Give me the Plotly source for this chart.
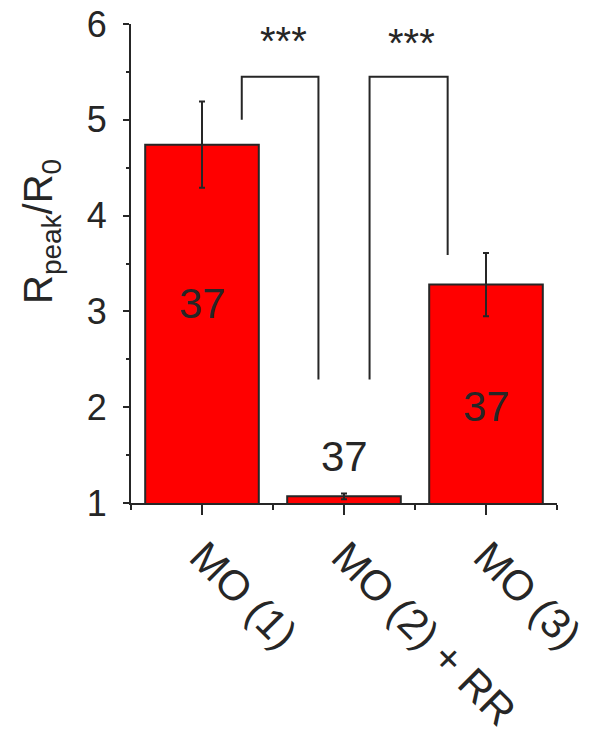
import plotly.graph_objects as go

# ---- data ----
categories = ["MO (1)", "MO (2) + RR", "MO (3)"]
means = [4.74, 1.07, 3.28]
errors = [0.45, 0.03, 0.33]
n_labels = ["37", "37", "37"]
y_ticks = [1, 2, 3, 4, 5, 6]

# significance brackets
sig_labels = ["***", "***"]
bracket_x_left = [0.28, 1.18]
bracket_x_right = [0.82, 1.73]
bracket_top = [5.45, 5.45]
bracket_left_end = [5.0, 2.29]
bracket_right_end = [2.29, 3.59]

# ---- placement (not data) ----
n_label_y = [3.08, 1.49, 2.01]
sig_label_y = [5.82, 5.80]

FONT = "Arial, 'Liberation Sans', sans-serif"
INK = "#262626"

x_pos = list(range(len(categories)))

fig = go.Figure()
fig.add_trace(go.Bar(
    x=x_pos, y=means, width=0.8,
    marker=dict(color="#FF0000", line=dict(color=INK, width=2)),
    error_y=dict(type="data", array=errors, visible=True,
                 color=INK, thickness=2, width=3),
    hoverinfo="skip", showlegend=False,
))

for xl, xr, top, le, re in zip(bracket_x_left, bracket_x_right, bracket_top,
                               bracket_left_end, bracket_right_end):
    fig.add_trace(go.Scatter(
        x=[xl, xl, xr, xr], y=[le, top, top, re], mode="lines",
        line=dict(color=INK, width=2), hoverinfo="skip", showlegend=False,
        cliponaxis=False,
    ))

annotations = []
for xi, lab, ly in zip(x_pos, n_labels, n_label_y):
    annotations.append(dict(x=xi, y=ly, text=lab, showarrow=False,
                            font=dict(family=FONT, size=42, color=INK),
                            xanchor="center", yanchor="middle"))
for xl, xr, lab, ly in zip(bracket_x_left, bracket_x_right, sig_labels, sig_label_y):
    annotations.append(dict(x=(xl + xr) / 2, y=ly, text=lab, showarrow=False,
                            xshift=3,
                            font=dict(family=FONT, size=40, color=INK),
                            xanchor="center", yanchor="middle"))
annotations.append(dict(xref="paper", yref="paper", x=-0.211, y=0.566,
                        text="R<sub>peak</sub>/R<sub>0</sub>", textangle=-90,
                        showarrow=False, xanchor="center", yanchor="middle",
                        font=dict(family=FONT, size=40, color=INK)))

fig.update_layout(
    width=607, height=740,
    margin=dict(l=131, r=50, t=24, b=237, autoexpand=False),
    paper_bgcolor="white", plot_bgcolor="white",
    font=dict(family=FONT, color=INK),
    annotations=annotations,
    hovermode=False,
    xaxis=dict(
        range=[-0.5, 2.5], tickvals=x_pos, ticktext=categories,
        tickangle=45, ticks="outside", ticklen=10, tickwidth=2, tickcolor=INK,
        showline=True, linecolor=INK, linewidth=2, showgrid=False, zeroline=False,
        automargin=False, ticklabeloverflow="allow",
        tickfont=dict(family=FONT, size=42, color=INK),
        minor=dict(tickvals=[-0.5, 0.5, 1.5, 2.5], ticks="outside", ticklen=5,
                   tickwidth=2, tickcolor=INK),
    ),
    yaxis=dict(
        range=[1, 6], tickvals=y_ticks, ticks="outside", ticklen=6, tickwidth=2,
        tickcolor=INK, showline=True, linecolor=INK, linewidth=2,
        showgrid=False, zeroline=False, automargin=False,
        ticklabelstandoff=9, ticklabeloverflow="allow",
        tickfont=dict(family=FONT, size=36, color=INK),
        minor=dict(dtick=0.5, ticks="outside", ticklen=3, tickwidth=2, tickcolor=INK,
                   showgrid=False),
    ),
)

# remove the browser's default 8px body margin so the figure sits at (0, 0)
fig.write_html("out.html",
               config={"displayModeBar": False},
               post_script="document.body.style.margin='0px';")
